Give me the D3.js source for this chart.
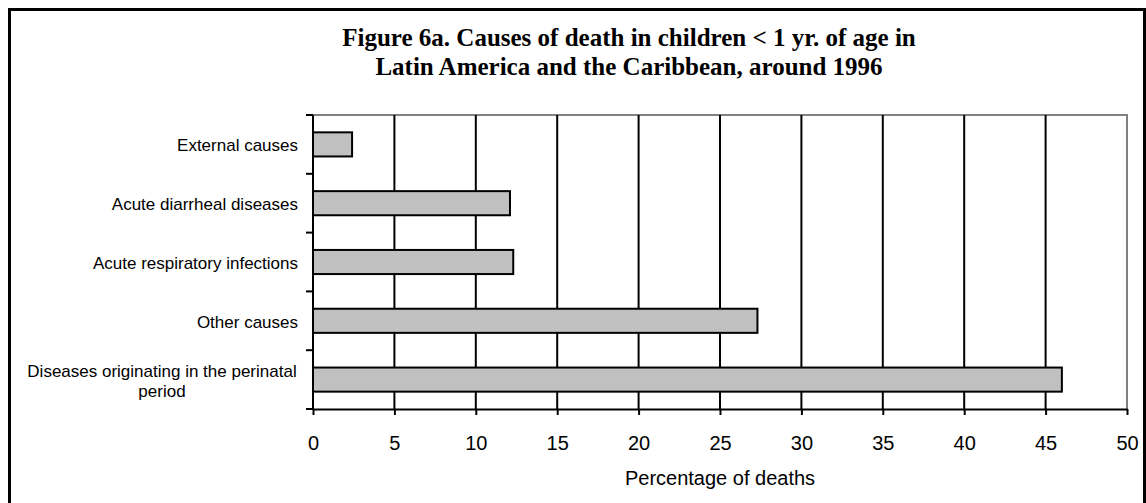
<!DOCTYPE html>
<meta charset="utf-8">
<html>
<body>
<svg width="1146" height="503"></svg>
<script src="https://d3js.org/d3.v7.min.js"></script>
<script>
// data (top to bottom)
var causes = ["External causes", "Acute diarrheal diseases", "Acute respiratory infections",
              "Other causes", "Diseases originating in the perinatal period"];
var pct = [2.4, 12.1, 12.3, 27.3, 46.0];
var xTicks = [0, 5, 10, 15, 20, 25, 30, 35, 40, 45, 50];
var titleLines = ["Figure 6a. Causes of death in children < 1 yr. of age in",
                  "Latin America and the Caribbean, around 1996"];

var svg = d3.select("svg"),
    width = +svg.attr("width"),
    height = +svg.attr("height");

// outer frame
svg.append("rect")
    .attr("x", 9.5).attr("y", 9.5)
    .attr("width", 1135).attr("height", 500)
    .attr("fill", "#fff").attr("stroke", "#000").attr("stroke-width", 3);

var pLeft = 313, pRight = 1127, pTop = 115, pBottom = 409;

var x = d3.scaleLinear().domain([0, 50]).range([pLeft, pRight]);
var y = d3.scaleBand().domain(causes).range([pTop, pBottom]).paddingInner(0.59).paddingOuter(0.295);

// title
svg.append("g").selectAll("text")
    .data(titleLines)
    .enter().append("text")
    .attr("x", 629)
    .attr("y", function(d, i) { return 46 + i * 29; })
    .attr("text-anchor", "middle")
    .style("font", "bold 25px 'Liberation Serif', 'Times New Roman', serif")
    .text(function(d) { return d; });

// plot frame (grey top/right)
svg.append("path")
    .attr("d", "M" + pLeft + "," + pTop + "H" + pRight + "V" + pBottom)
    .attr("fill", "none").attr("stroke", "#808080").attr("stroke-width", 2);

// gridlines
svg.append("g").selectAll("line")
    .data(xTicks.filter(function(d) { return d > 0 && d < 50; }))
    .enter().append("line")
    .attr("x1", function(d) { return x(d); }).attr("x2", function(d) { return x(d); })
    .attr("y1", pTop).attr("y2", pBottom)
    .attr("stroke", "#000").attr("stroke-width", 2);

// bars
svg.append("g").selectAll("rect")
    .data(pct)
    .enter().append("rect")
    .attr("x", x(0))
    .attr("y", function(d, i) { return y(causes[i]); })
    .attr("width", function(d) { return x(d) - x(0); })
    .attr("height", y.bandwidth())
    .attr("fill", "#c0c0c0").attr("stroke", "#000").attr("stroke-width", 2);

// x axis
var xAxis = svg.append("g")
    .attr("transform", "translate(0," + pBottom + ")")
    .call(d3.axisBottom(x).tickValues(xTicks).tickSize(6).tickPadding(21).tickSizeOuter(0));
xAxis.select(".domain").attr("stroke-width", 2);
xAxis.selectAll(".tick line").attr("stroke-width", 2);
xAxis.selectAll(".tick text")
    .style("font", "20px 'Liberation Sans', Arial, sans-serif").attr("fill", "#000");

// y axis: ticks at band boundaries
var bounds = d3.range(causes.length + 1).map(function(i) { return pTop + i * (pBottom - pTop) / causes.length; });
svg.append("line")
    .attr("x1", pLeft).attr("x2", pLeft).attr("y1", pTop).attr("y2", pBottom + 1)
    .attr("stroke", "#000").attr("stroke-width", 2);
svg.append("g").selectAll("line")
    .data(bounds)
    .enter().append("line")
    .attr("x1", pLeft - 7).attr("x2", pLeft)
    .attr("y1", function(d) { return d; }).attr("y2", function(d) { return d; })
    .attr("stroke", "#000").attr("stroke-width", 2);

// category labels
svg.append("g").selectAll("text")
    .data(causes)
    .enter().append("text")
    .style("font", "17px 'Liberation Sans', Arial, sans-serif")
    .attr("fill", "#000")
    .each(function(d) {
        var t = d3.select(this);
        var cy = y(d) + y.bandwidth() / 2;
        if (d.indexOf("perinatal") > 0) {
            t.attr("text-anchor", "middle");
            t.append("tspan").attr("x", 162).attr("y", cy - 3).text("Diseases originating in the perinatal");
            t.append("tspan").attr("x", 162).attr("y", cy + 17).text("period");
        } else {
            t.attr("text-anchor", "end").attr("x", 298).attr("y", cy + 7).text(d);
        }
    });

// x axis title
svg.append("text")
    .attr("x", 720).attr("y", 485)
    .attr("text-anchor", "middle")
    .style("font", "20px 'Liberation Sans', Arial, sans-serif")
    .text("Percentage of deaths");
</script>
</body>
</html>
<style>
body { margin: 0; background: #fff; }
svg { display: block; }
</style>
